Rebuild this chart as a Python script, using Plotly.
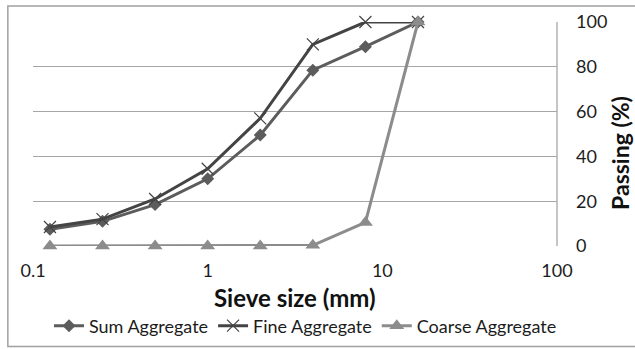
import plotly.graph_objects as go

# Sieve analysis data
sieve_mm = [0.125, 0.25, 0.5, 1, 2, 4, 8, 16]
sum_aggregate = [7.5, 11, 18.5, 30, 49.5, 78.5, 89, 100]
fine_aggregate = [8.5, 12, 21, 34.5, 57, 90, 100, 100]
coarse_aggregate = [0, 0, 0, 0, 0, 0.3, 10.5, 100]

y_ticks = [0, 20, 40, 60, 80, 100]
x_ticks = [0.1, 1, 10, 100]
x_tick_labels = ["0.1", "1", "10", "100"]

FONT = "Lato"
TEXT = "#1c1c1c"

fig = go.Figure()
fig.add_trace(go.Scatter(
    x=sieve_mm, y=sum_aggregate, name="Sum Aggregate", mode="lines+markers",
    line=dict(color="#5c5c5c", width=3),
    marker=dict(symbol="diamond", size=10, color="#5c5c5c"),
    cliponaxis=False,
))
fig.add_trace(go.Scatter(
    x=sieve_mm, y=fine_aggregate, name="Fine Aggregate", mode="lines+markers",
    line=dict(color="#444444", width=3),
    marker=dict(symbol="x-thin", size=12, line=dict(color="#444444", width=1.2)),
    cliponaxis=False,
))
fig.add_trace(go.Scatter(
    x=sieve_mm, y=coarse_aggregate, name="Coarse Aggregate", mode="lines+markers",
    line=dict(color="#8c8c8c", width=3),
    marker=dict(symbol="triangle-up", size=13, color="#8c8c8c"),
    cliponaxis=False,
))

fig.update_layout(
    width=635, height=349,
    margin=dict(l=33, r=78, t=22, b=103, autoexpand=False),
    paper_bgcolor="white", plot_bgcolor="white",
    font=dict(family=FONT, size=18, color=TEXT),
    showlegend=True,
    legend=dict(orientation="h", x=0.52, xanchor="center", y=-0.357, yanchor="middle",
                font=dict(size=18, color=TEXT), itemwidth=30, tracegroupgap=0,
                bgcolor="rgba(0,0,0,0)"),
    xaxis=dict(type="log", range=[-1, 2], tickvals=x_ticks, ticktext=x_tick_labels,
               showgrid=False, zeroline=False, showline=False, ticks="",
               ticklabelstandoff=12, tickfont=dict(size=18), automargin=False),
    yaxis=dict(side="right", range=[0, 100], tickvals=y_ticks,
               showgrid=True, gridcolor="#a6a6a6", gridwidth=1.3,
               zeroline=False, showline=False, ticks="",
               ticklabelstandoff=18, tickfont=dict(size=18), automargin=False),
    shapes=[
        # right border of the plotting area
        dict(type="line", xref="paper", yref="paper", x0=1, x1=1, y0=0, y1=1,
             line=dict(color="#a6a6a6", width=1.3)),
        # chart frame
        dict(type="rect", xref="paper", yref="paper", x0=-0.048, x1=1.2, y0=-0.449, y1=1.071,
             line=dict(color="#a0a0a0", width=1.5), fillcolor="rgba(0,0,0,0)", layer="below"),
    ],
    annotations=[
        dict(text="<b>Sieve size (mm)</b>", xref="paper", yref="paper", x=0.5, y=-0.232,
             xanchor="center", yanchor="middle", showarrow=False,
             font=dict(size=24, color="#111111")),
        dict(text="<b>Passing (%)</b>", xref="paper", yref="paper", x=1.12, y=0.415,
             xanchor="center", yanchor="middle", showarrow=False, textangle=-90,
             font=dict(size=23, color="#111111")),
    ],
)

fig.write_html("out.html")
